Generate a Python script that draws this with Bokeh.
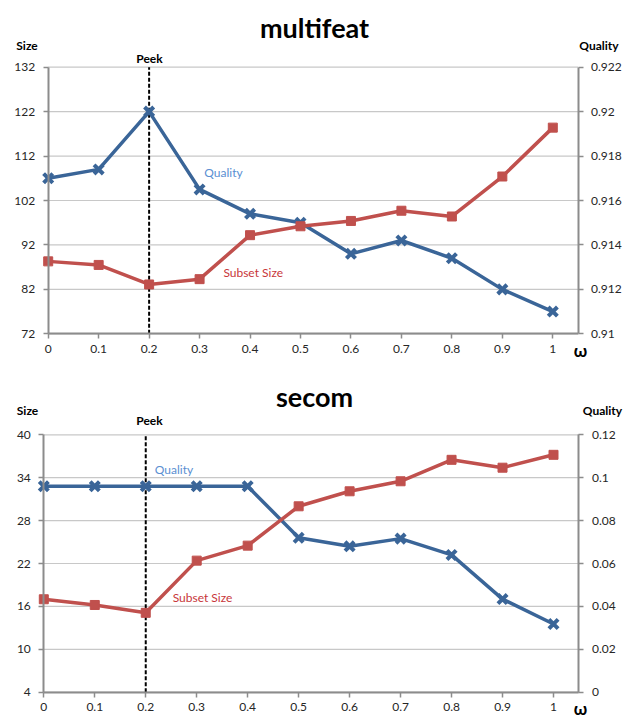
from bokeh.plotting import figure
from bokeh.models import (Range1d, LinearAxis, FixedTicker, CustomJSTickFormatter,
                          Label)
from bokeh.layouts import column
from bokeh.embed import file_html
from bokeh.resources import INLINE

# ---------------- data ----------------
omega = [0.0, 0.1, 0.2, 0.3, 0.4, 0.5, 0.6, 0.7, 0.8, 0.9, 1.0]
omega_ticks = [0.0, 0.1, 0.2, 0.3, 0.4, 0.5, 0.6, 0.7, 0.8, 0.9, 1.0]
omega_axis_end = 1.05
peek_omega = 0.2

mf_title = "multifeat"
mf_size = [88.3, 87.5, 83.1, 84.3, 94.2, 96.2, 97.4, 99.7, 98.4, 107.4, 118.4]
mf_quality = [0.9170, 0.9174, 0.9200, 0.9165, 0.9154, 0.9150, 0.9136, 0.9142, 0.9134, 0.9120, 0.9110]
mf_size_ticks = [72, 82, 92, 102, 112, 122, 132]
mf_quality_ticks = [0.910, 0.912, 0.914, 0.916, 0.918, 0.920, 0.922]

secom_title = "secom"
secom_size = [17.0, 16.2, 15.1, 22.4, 24.5, 30.0, 32.1, 33.5, 36.5, 35.4, 37.2]
secom_quality = [0.096, 0.096, 0.096, 0.096, 0.096, 0.072, 0.068, 0.0716, 0.064, 0.0434, 0.0318]
secom_size_ticks = [4, 10, 16, 22, 28, 34, 40]
secom_quality_ticks = [0.0, 0.02, 0.04, 0.06, 0.08, 0.10, 0.12]

# ---------------- style ----------------
FONT = "Lato"
BLUE = "#3A6598"
RED = "#C0504D"
QLABEL = "#5A8FD2"
SLABEL = "#C8363A"
AXIS = "#8C8C8C"
GRID = "#C8C8C8"
TXT = "#262626"

fmt = CustomJSTickFormatter(code="return String(parseFloat(tick.toFixed(4)));")


def style_axis(ax, standoff):
    ax.axis_line_color = AXIS
    ax.axis_line_width = 2
    ax.major_tick_line_color = AXIS
    ax.major_tick_line_width = 1.5
    ax.major_tick_in = 0
    ax.major_tick_out = 5
    ax.minor_tick_line_color = None
    ax.major_label_text_font = FONT
    ax.major_label_text_font_size = "12px"
    ax.major_label_text_color = TXT
    ax.major_label_standoff = standoff
    ax.formatter = fmt


def make_chart(title, size, quality, size_ticks, q_ticks, width, height,
               anchors, pos):
    # anchors: canvas pixels of x=0, x=1, y=top tick, y=bottom tick
    ax0, ax1, ay_top, ay_bot = anchors
    sx = (ax1 - ax0) / (omega_ticks[-1] - omega_ticks[0])
    s_lo, s_hi = size_ticks[0], size_ticks[-1]
    sy = (ay_bot - ay_top) / (s_hi - s_lo)
    x_start = omega_ticks[0] - ax0 / sx
    x_end = omega_ticks[0] + (width - ax0) / sx
    y_start = s_lo - (height - ay_bot) / sy
    y_end = s_hi + ay_top / sy
    q_lo, q_hi = q_ticks[0], q_ticks[-1]
    k = (q_hi - q_lo) / (s_hi - s_lo)
    q_start = q_lo + (y_start - s_lo) * k
    q_end = q_lo + (y_end - s_lo) * k

    def d(px, py):
        return x_start + px / sx, y_end - py / sy

    p = figure(width=width, height=height, output_backend="svg",
               toolbar_location=None,
               x_range=Range1d(x_start, x_end),
               y_range=Range1d(y_start, y_end),
               min_border=0, min_border_left=0, min_border_right=0,
               min_border_top=0, min_border_bottom=0)
    p.outline_line_color = None
    p.background_fill_color = "white"
    p.border_fill_color = "white"
    p.extra_y_ranges = {"q": Range1d(q_start, q_end)}
    p.xgrid.visible = False
    p.ygrid.visible = False

    # horizontal gridlines across the chart area only
    n = len(size_ticks)
    p.segment(x0=[omega_ticks[0]] * n, x1=[omega_axis_end] * n,
              y0=size_ticks, y1=size_ticks, line_color=GRID, line_width=1.2)

    # axes drawn at the chart's edges
    xa = p.xaxis[0]
    xa.ticker = FixedTicker(ticks=omega_ticks)
    xa.fixed_location = s_lo
    xa.bounds = (omega_ticks[0], omega_axis_end)
    style_axis(xa, 6)

    ya = p.yaxis[0]
    ya.ticker = FixedTicker(ticks=size_ticks)
    ya.fixed_location = omega_ticks[0]
    ya.bounds = (s_lo, s_hi)
    style_axis(ya, 8)

    right = LinearAxis(y_range_name="q", ticker=FixedTicker(ticks=q_ticks))
    right.fixed_location = omega_axis_end
    right.bounds = (q_lo, q_hi)
    style_axis(right, 8)
    p.add_layout(right, "right")

    # Peek marker line
    p.line([peek_omega, peek_omega], [s_lo, s_hi], line_color="black",
           line_width=2, line_dash="4 2")

    # quality (blue)
    p.line(omega, quality, y_range_name="q", line_color=BLUE, line_width=3.5)
    p.scatter(omega, quality, y_range_name="q", marker="x", size=13,
              line_color=BLUE, line_width=4)
    # subset size (red)
    p.line(omega, size, line_color=RED, line_width=3.5)
    p.scatter(omega, size, marker="square", size=9, fill_color=RED,
              line_color=RED)

    def lab(text, key, size_px, color="black", bold=False, baseline="middle"):
        x, y = d(*pos[key])
        p.add_layout(Label(x=x, y=y, text=text, text_font=FONT,
                           text_font_size=size_px, text_color=color,
                           text_font_style="bold" if bold else "normal",
                           text_align="center", text_baseline=baseline))

    lab(title, "title", "27px", bold=True, baseline="alphabetic")
    lab("Size", "size", "12px", bold=True)
    lab("Quality", "quality", "12px", bold=True)
    lab("Peek", "peek", "12px", bold=True)
    lab("ω", "omega", "17px", bold=True)
    lab("Quality", "qline", "12px", color=QLABEL)
    lab("Subset Size", "sline", "12px", color=SLABEL)
    return p


p1 = make_chart(mf_title, mf_size, mf_quality, mf_size_ticks, mf_quality_ticks,
                638, 366, (47.7, 552.3, 66.7, 333.3),
                dict(title=(314, 27.3), size=(26.5, 45), quality=(598.5, 45),
                     peek=(149, 57.7), omega=(580, 350),
                     qline=(223, 172.3), sline=(252.7, 272.3)))

p2 = make_chart(secom_title, secom_size, secom_quality, secom_size_ticks,
                secom_quality_ticks, 638, 353, (43.3, 553, 68.3, 325.7),
                dict(title=(314, 29.7), size=(27, 44), quality=(602, 44),
                     peek=(149, 54), omega=(580, 342.3),
                     qline=(173.5, 103), sline=(202, 230.7)))

layout = column(p1, p2, spacing=0)
open("out.html", "w").write(file_html(layout, INLINE))
